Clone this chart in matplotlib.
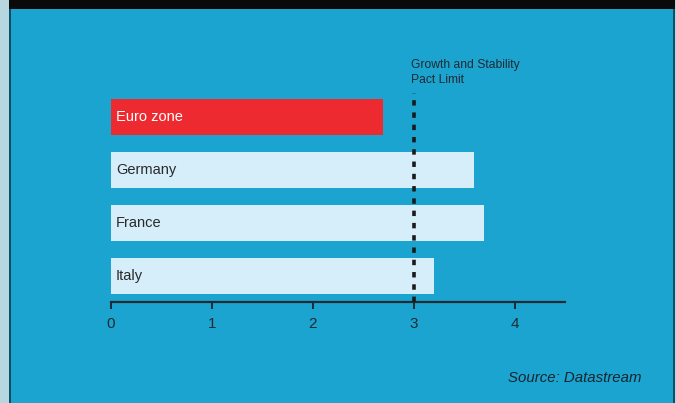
import matplotlib.pyplot as plt
from matplotlib.patches import Rectangle

plt.rcParams['font.family'] = ['Liberation Sans', 'DejaVu Sans']

countries = ['Euro zone', 'Germany', 'France', 'Italy']
values = [2.7, 3.6, 3.7, 3.2]
bar_colors = ['#EE2A31', '#D5EEF9', '#D5EEF9', '#D5EEF9']
label_colors = ['white', '#2a2a2a', '#2a2a2a', '#2a2a2a']
limit = 3.0
ticks = [0, 1, 2, 3, 4]

W, H = 676, 403
fig = plt.figure(figsize=(W / 100, H / 100), dpi=100)
fig.patch.set_facecolor('#B6D7DF')

# frame pieces: blue panel, dark edges, black band on top
fig.patches.append(Rectangle((10 / W, 0), 663 / W, 1, transform=fig.transFigure,
                             facecolor='#1CA4D0', edgecolor='none', zorder=-3))
fig.patches.append(Rectangle((9 / W, 0), 1.5 / W, 1, transform=fig.transFigure,
                             facecolor='#0E4F66', edgecolor='none', zorder=-2))
fig.patches.append(Rectangle((673 / W, 0), 1.5 / W, 1, transform=fig.transFigure,
                             facecolor='#0E4F66', edgecolor='none', zorder=-2))
fig.patches.append(Rectangle((9 / W, 1 - 9 / H), 666 / W, 9 / H, transform=fig.transFigure,
                             facecolor='#0A0A0A', edgecolor='none', zorder=-1))

ax = fig.add_axes([111 / W, (H - 302) / H, 454 / W, 211.2 / H])
ax.set_zorder(2)
ax.patch.set_alpha(0)

ypos = [3, 2, 1, 0]
ax.barh(ypos, values, height=0.68, color=bar_colors, zorder=2)
for y, name, c in zip(ypos, countries, label_colors):
    ax.text(0.05, y, name, color=c, fontsize=10.5, va='center', ha='left', zorder=3)

ax.axvline(limit, ymin=0, ymax=0.99, color='#1a1a1a', lw=2.6,
           dashes=(1.5, 1.9), zorder=4)
ax.text(limit - 0.03, 3.6, 'Growth and Stability\nPact Limit', fontsize=8.7,
        color='#1d2b33', ha='left', va='bottom', linespacing=1.25)

ax.set_xlim(0, 4.5)
ax.set_ylim(-0.5, 3.5)
for s in ['top', 'right', 'left']:
    ax.spines[s].set_visible(False)
ax.spines['bottom'].set_color('#1d2b33')
ax.spines['bottom'].set_linewidth(1.6)
ax.set_yticks([])
ax.set_xticks(ticks)
ax.tick_params(axis='x', direction='out', length=5, width=1.4, color='#1d2b33',
               labelsize=11, labelcolor='#1d2b33', pad=6)

fig.text(641 / W, 1 - 378 / H, 'Source: Datastream', fontsize=10.8, style='italic',
         color='#13252e', ha='right', va='center')

fig.savefig('out.png', dpi=100, facecolor=fig.get_facecolor())
